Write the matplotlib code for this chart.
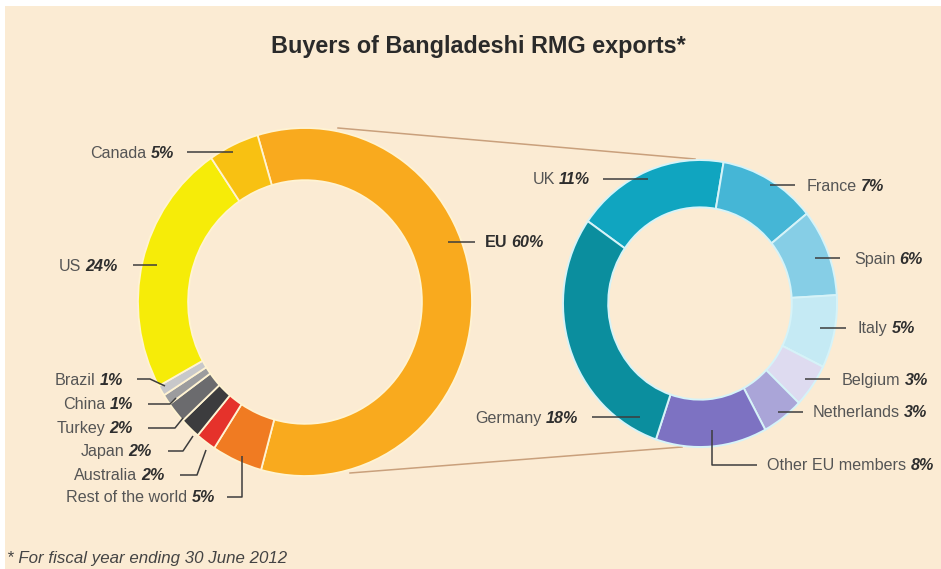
import matplotlib
matplotlib.use('Agg')
import matplotlib.pyplot as plt
from matplotlib.patches import Rectangle

# ---------------- data ----------------
world_labels = ['EU', 'Rest of the world', 'Australia', 'Japan', 'Turkey',
                'China', 'Brazil', 'US', 'Canada']
world_values = [60, 5, 2, 2, 2, 1, 1, 24, 5]

eu_labels = ['UK', 'France', 'Spain', 'Italy', 'Belgium', 'Netherlands',
             'Other EU members', 'Germany']
eu_values = [11, 7, 6, 5, 3, 3, 8, 18]

title = 'Buyers of Bangladeshi RMG exports*'
footnote = '* For fiscal year ending 30 June 2012'

# ---------------- style ----------------
world_colors = ['#F9AA1E', '#F07B22', '#E5322B', '#3C3C3E', '#6B6B6E',
                '#9C9C9E', '#C8C8CA', '#F6EC08', '#F8C112']
eu_colors = ['#10A5C0', '#45B6D6', '#86CEE6', '#C5EAF4', '#DEDBF0',
             '#AAA5D8', '#7D72C2', '#0B8E9E']
BEIGE = '#FBEBD3'
NAME_C = '#555555'
PCT_C = '#2e2e2e'
LEAD_C = '#3d3d3d'
CONN_C = '#C9A07C'
FS = 11.6

W, H = 941, 569
plt.rcParams['font.family'] = ['Liberation Sans', 'DejaVu Sans']
fig = plt.figure(figsize=(W / 100, H / 100), dpi=100, facecolor=BEIGE)

bg = fig.add_axes([0, 0, 1, 1], zorder=0)
bg.set_xlim(0, W)
bg.set_ylim(H, 0)
bg.axis('off')
# thin white margin at the top and left, as in the original image
bg.add_patch(Rectangle((-5, -5), W + 10, 11, facecolor='white', edgecolor='none',
                       clip_on=False))
bg.add_patch(Rectangle((-5, -5), 10, H + 10, facecolor='white', edgecolor='none',
                       clip_on=False))

# connector lines between the EU slice and the EU breakdown
bg.plot([338, 695], [128, 159], color=CONN_C, lw=1.1)
bg.plot([350, 682], [473, 447], color=CONN_C, lw=1.1)

PAD = 1.05


def donut_axes(cx, cy, rx, ry):
    l = (cx - rx * PAD) / W
    b = 1 - (cy + ry * PAD) / H
    return fig.add_axes([l, b, 2 * rx * PAD / W, 2 * ry * PAD / H], zorder=2)


axL = donut_axes(305, 302, 167, 174)
axL.pie(world_values, colors=world_colors, startangle=106.5, counterclock=False,
        radius=1, wedgeprops=dict(width=0.30, edgecolor='#FFF3D2', linewidth=1.3))
axL.set_xlim(-PAD, PAD)
axL.set_ylim(-PAD, PAD)
axL.set_aspect('auto')
axL.axis('off')

axR = donut_axes(700, 303.5, 137, 143.5)
axR.pie(eu_values, colors=eu_colors, startangle=145, counterclock=False,
        radius=1, wedgeprops=dict(width=0.33, edgecolor='#D6F3F8', linewidth=1.4))
axR.set_xlim(-PAD, PAD)
axR.set_ylim(-PAD, PAD)
axR.set_aspect('auto')
axR.axis('off')

ov = fig.add_axes([0, 0, 1, 1], zorder=5)
ov.set_xlim(0, W)
ov.set_ylim(H, 0)
ov.axis('off')
ov.patch.set_alpha(0)


def label_right(x_end, y, name, val, bold_name=False):
    p = ov.text(x_end, y, f'{val}%', ha='right', va='center', fontsize=FS,
                fontweight='bold', fontstyle='italic', color=PCT_C)
    ov.annotate(name, xy=(0, 0), xycoords=p, xytext=(-3, 0),
                textcoords='offset points', ha='right', va='bottom', fontsize=FS,
                color=PCT_C if bold_name else NAME_C,
                fontweight='bold' if bold_name else 'normal')


def label_left(x_start, y, name, val, bold_name=False):
    n = ov.text(x_start, y, name, ha='left', va='center', fontsize=FS,
                color=PCT_C if bold_name else NAME_C,
                fontweight='bold' if bold_name else 'normal')
    ov.annotate(f'{val}%', xy=(1, 0), xycoords=n, xytext=(3, 0),
                textcoords='offset points', ha='left', va='bottom', fontsize=FS,
                fontweight='bold', fontstyle='italic', color=PCT_C)


def leader(pts):
    xs, ys = zip(*pts)
    ov.plot(xs, ys, color=LEAD_C, lw=1.1, solid_capstyle='butt')


# world labels: (side, x, y, leader points)
world_layout = {
    'EU': ('L', 485, 242, [(448, 242), (475, 242)]),
    'Rest of the world': ('R', 215, 497, [(227, 497), (242, 497), (242, 456)]),
    'Australia': ('R', 165, 475, [(180, 475), (197, 475), (206, 450)]),
    'Japan': ('R', 152, 451, [(168, 451), (183, 451), (193, 436)]),
    'Turkey': ('R', 133, 428, [(148, 428), (175, 428), (183, 418)]),
    'China': ('R', 133, 404, [(148, 404), (170, 404), (176, 398)]),
    'Brazil': ('R', 123, 380, [(137, 379), (150, 379), (165, 386)]),
    'US': ('R', 118, 266, [(133, 265), (157, 265)]),
    'Canada': ('R', 174, 153, [(187, 152), (233, 152)]),
}
for name, val in zip(world_labels, world_values):
    side, x, y, pts = world_layout[name]
    leader(pts)
    if side == 'L':
        label_left(x, y, name, val, bold_name=(name == 'EU'))
    else:
        label_right(x, y, name, val)

eu_layout = {
    'UK': ('R', 590, 179, [(603, 179), (648, 179)]),
    'France': ('L', 807, 186, [(770, 185), (795, 185)]),
    'Spain': ('L', 854, 259, [(815, 258), (840, 258)]),
    'Italy': ('L', 858, 328, [(820, 328), (846, 328)]),
    'Belgium': ('L', 842, 380, [(805, 379), (830, 379)]),
    'Netherlands': ('L', 813, 412, [(778, 412), (803, 412)]),
    'Other EU members': ('L', 767, 465, [(712, 430), (712, 465), (757, 465)]),
    'Germany': ('R', 578, 418, [(592, 417), (640, 417)]),
}
for name, val in zip(eu_labels, eu_values):
    side, x, y, pts = eu_layout[name]
    leader(pts)
    if side == 'L':
        label_left(x, y, name, val)
    else:
        label_right(x, y, name, val)

ov.text(478, 46, title, ha='center', va='center', fontsize=16.8,
        fontweight='bold', color='#2a2a2a')
ov.text(7, 559, footnote, ha='left', va='center', fontsize=12.2,
        fontstyle='italic', color='#444444')

fig.savefig('out.png', dpi=100, facecolor=fig.get_facecolor())
